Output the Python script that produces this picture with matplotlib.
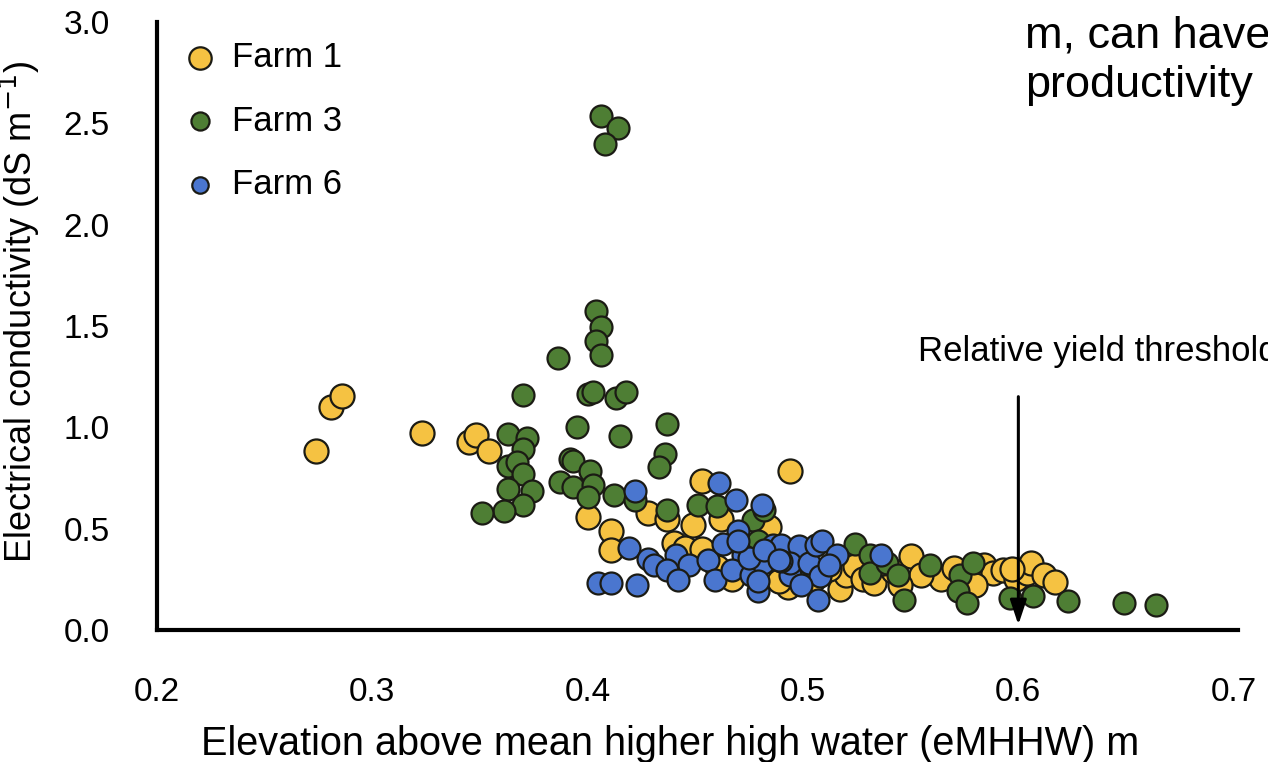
import matplotlib
matplotlib.use("Agg")
import matplotlib.pyplot as plt

plt.rcParams['font.family'] = ['Liberation Sans', 'DejaVu Sans']

# Farm 1 (yellow)
farm1_x = [0.274, 0.281, 0.286, 0.323, 0.345, 0.348, 0.354, 0.400, 0.411, 0.411,
           0.428, 0.437, 0.440, 0.445, 0.449, 0.453, 0.453, 0.462, 0.467, 0.484,
           0.493, 0.494, 0.517, 0.520, 0.524, 0.528, 0.533, 0.542, 0.550, 0.564,
           0.570, 0.579, 0.584, 0.588, 0.593, 0.599, 0.604, 0.606, 0.612, 0.617,
           0.475, 0.490, 0.505, 0.512, 0.537, 0.555, 0.545, 0.580, 0.460, 0.489, 0.597]
farm1_y = [0.885, 1.100, 1.155, 0.973, 0.930, 0.960, 0.885, 0.560, 0.490, 0.395,
           0.575, 0.550, 0.430, 0.405, 0.520, 0.735, 0.400, 0.550, 0.250, 0.510,
           0.210, 0.787, 0.200, 0.270, 0.315, 0.250, 0.230, 0.290, 0.365, 0.250,
           0.305, 0.270, 0.320, 0.280, 0.295, 0.250, 0.280, 0.330, 0.270, 0.235,
           0.320, 0.300, 0.250, 0.300, 0.330, 0.270, 0.220, 0.220, 0.310, 0.240, 0.300]

# Farm 3 (green)
farm3_x = [0.406, 0.414, 0.408, 0.404, 0.406, 0.404, 0.406, 0.386, 0.370, 0.400,
           0.4025, 0.413, 0.418, 0.395, 0.415, 0.437, 0.392, 0.393, 0.436, 0.433,
           0.363, 0.372, 0.370, 0.363, 0.367, 0.370, 0.363, 0.374, 0.370, 0.361,
           0.351, 0.387, 0.393, 0.401, 0.4025, 0.400, 0.412, 0.422, 0.437, 0.451,
           0.460, 0.477, 0.479, 0.482, 0.524, 0.531, 0.531, 0.539, 0.544, 0.547,
           0.559, 0.573, 0.572, 0.576, 0.579, 0.596, 0.607, 0.623, 0.649, 0.664,
           0.485, 0.500]
farm3_y = [2.537, 2.478, 2.400, 1.573, 1.494, 1.426, 1.357, 1.342, 1.160, 1.165,
           1.175, 1.145, 1.175, 1.003, 0.959, 1.018, 0.846, 0.836, 0.870, 0.806,
           0.968, 0.949, 0.895, 0.811, 0.831, 0.772, 0.698, 0.688, 0.619, 0.585,
           0.575, 0.732, 0.708, 0.787, 0.713, 0.654, 0.664, 0.639, 0.590, 0.619,
           0.610, 0.541, 0.4375, 0.590, 0.423, 0.369, 0.280, 0.329, 0.270, 0.147,
           0.320, 0.270, 0.192, 0.133, 0.329, 0.157, 0.167, 0.143, 0.133, 0.123,
           0.380, 0.270]

# Farm 6 (blue)
farm6_x = [0.405, 0.411, 0.423, 0.422, 0.419, 0.428, 0.431, 0.441, 0.447, 0.456,
           0.437, 0.442, 0.459, 0.461, 0.469, 0.481, 0.470, 0.463, 0.472, 0.467,
           0.476, 0.479, 0.4815, 0.486, 0.490, 0.494, 0.498, 0.494, 0.503, 0.506,
           0.509, 0.508, 0.516, 0.507, 0.536, 0.475, 0.482, 0.490, 0.470, 0.479,
           0.489, 0.512, 0.499]
farm6_y = [0.231, 0.231, 0.221, 0.688, 0.403, 0.349, 0.320, 0.369, 0.320, 0.344,
           0.295, 0.246, 0.246, 0.723, 0.639, 0.615, 0.487, 0.423, 0.369, 0.295,
           0.270, 0.192, 0.329, 0.418, 0.418, 0.270, 0.413, 0.329, 0.329, 0.418,
           0.4375, 0.265, 0.369, 0.147, 0.369, 0.354, 0.393, 0.339, 0.4375, 0.241,
           0.344, 0.320, 0.221]

series_labels = ["Farm 1", "Farm 3", "Farm 6"]
x_ticks = [0.2, 0.3, 0.4, 0.5, 0.6, 0.7]
y_ticks = [0.0, 0.5, 1.0, 1.5, 2.0, 2.5, 3.0]
threshold_x = 0.6

fig = plt.figure(figsize=(12.68, 7.62), dpi=100)
ax = fig.add_axes([157/1268, 1-630/762, (1238-157)/1268, (630-22)/762])

yellow = '#F5C242'
green = '#4E7E34'
blue = '#4A76CF'
edge = '#1b1b14'

ax.scatter(farm1_x, farm1_y, s=300, c=yellow, edgecolors=edge, linewidths=1.6,
           label=series_labels[0], zorder=3)
ax.scatter(farm3_x, farm3_y, s=250, c=green, edgecolors=edge, linewidths=1.6,
           label=series_labels[1], zorder=3)
ax.scatter(farm6_x, farm6_y, s=250, c=blue, edgecolors=edge, linewidths=1.6,
           label=series_labels[2], zorder=4)

ax.set_xlim(0.2, 0.702)
ax.set_ylim(0.0, 3.0)
ax.set_xticks(x_ticks)
ax.set_xticklabels([f"{v:.1f}" for v in x_ticks])
ax.set_yticks(y_ticks)
ax.set_yticklabels([f"{v:.1f}" for v in y_ticks])
ax.tick_params(axis='both', length=0, labelsize=24)
ax.tick_params(axis='x', pad=34)
ax.tick_params(axis='y', pad=34)

for side in ['top', 'right']:
    ax.spines[side].set_visible(False)
for side in ['left', 'bottom']:
    ax.spines[side].set_linewidth(3)
    ax.spines[side].set_color('black')

ax.set_xlabel("Elevation above mean higher high water (eMHHW) m", fontsize=28.5)
ax.xaxis.set_label_coords((670-157)/1081, -(725-630)/608)
ax.set_ylabel("Electrical conductivity (dS m$^{-1}$)", fontsize=26)
ax.yaxis.set_label_coords((42-157)/1081, (630-312)/608)

leg = ax.legend(loc='upper left', bbox_to_anchor=((183-157)/1081, (630-41)/608),
                frameon=False, fontsize=25, handlelength=1.0, handletextpad=0.42,
                labelspacing=0.88, borderaxespad=0, borderpad=0)
for h, sz in zip(leg.legend_handles, [260, 170, 140]):
    h.set_sizes([sz])

ax.annotate("", xy=(threshold_x, 0.012), xytext=(threshold_x, 1.165),
            arrowprops=dict(arrowstyle='-|>,head_width=0.5,head_length=1.5',
                            color='black', lw=2.2), zorder=5)
fig.text(918/1268, 1-352/762, "Relative yield threshold", fontsize=25,
         va='center', ha='left')

fig.text(1025/1268, 1-36/762, "m, can have", fontsize=32.5, va='center', ha='left')
fig.text(1025/1268, 1-86/762, "productivity", fontsize=32.5, va='center', ha='left')

fig.savefig("out.png", dpi=100)
